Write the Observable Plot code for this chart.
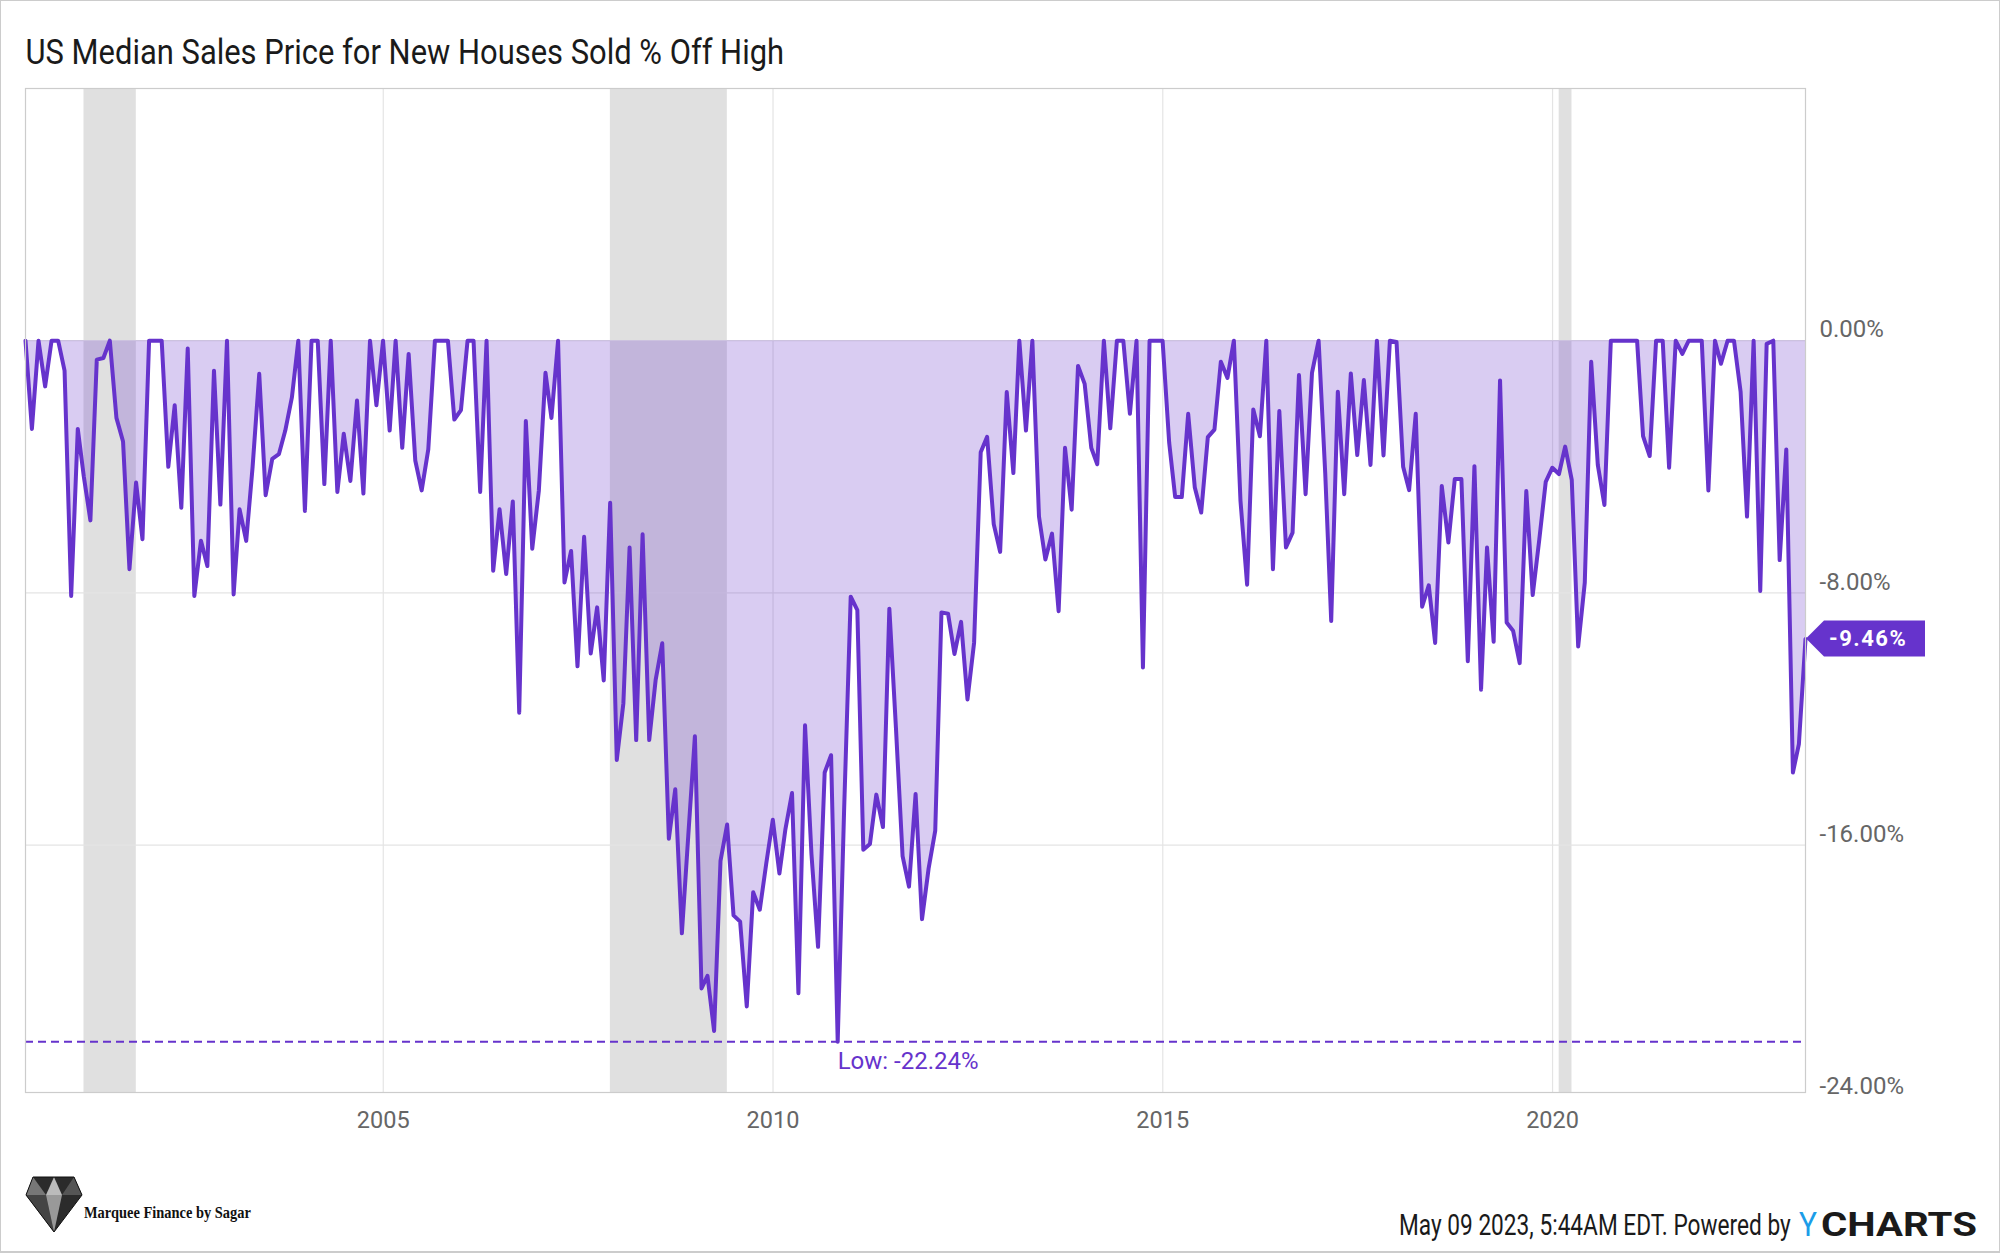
<!DOCTYPE html>
<html><head><meta charset="utf-8">
<script src="https://cdn.jsdelivr.net/npm/d3@7"></script>
<script src="https://cdn.jsdelivr.net/npm/@observablehq/plot@0.6"></script>
<style>
html,body{margin:0;padding:0;background:#fff;}
#page{position:relative;width:2000px;height:1253px;overflow:hidden;background:#fff;font-family:Roboto,sans-serif;}
#page>svg{position:absolute;left:0;top:0;}
#border{position:absolute;left:0;top:0;width:2000px;height:1253px;box-sizing:border-box;border:1px solid #cccccc;border-bottom-width:2px;pointer-events:none;}
g[aria-label="y-tick-labels"] text{letter-spacing:1.1px;}
g[aria-label="x-tick-labels"] text{letter-spacing:0.6px;}
g[aria-label="low-label"] text{letter-spacing:0.7px;}
</style></head>
<body><div id="page"><div id="border"></div></div>
<script>
// ---- data ----
const startYear = 2000, startMonth = 5; // first observation: May 2000 (month-end)
const offHigh = [
 0,-2.8,0,-1.45,0,0,-0.95,-8.1,-2.8,-4.3,
 -5.7,-0.6,-0.55,0,-2.45,-3.2,-7.25,-4.5,-6.3,0,
 0,0,-4.0,-2.05,-5.3,-0.25,-8.1,-6.35,-7.15,-0.95,
 -5.2,0,-8.05,-5.35,-6.35,-4.0,-1.05,-4.9,-3.75,-3.6,
 -2.85,-1.8,0,-5.4,0,0,-4.55,0,-4.8,-2.95,
 -4.45,-1.9,-4.85,0,-2.05,0,-2.85,0,-3.4,-0.42,
 -3.8,-4.75,-3.45,0,0,0,-2.5,-2.2,0,0,
 -4.8,0,-7.3,-5.35,-7.4,-5.1,-11.8,-2.55,-6.6,-4.75,
 -1.02,-2.45,0,-7.67,-6.67,-10.33,-6.22,-9.92,-8.46,-10.78,
 -5.14,-13.3,-11.5,-6.56,-12.67,-6.14,-12.67,-10.77,-9.6,-15.8,
 -14.23,-18.8,-15.7,-12.55,-20.55,-20.15,-21.9,-16.5,-15.35,-18.23,
 -18.43,-21.12,-17.5,-18.05,-16.6,-15.2,-16.9,-15.5,-14.35,-20.7,
 -12.2,-16.28,-19.23,-13.7,-13.15,-22.24,-14.9,-8.12,-8.55,-16.15,
 -15.97,-14.4,-15.43,-8.5,-12.3,-16.35,-17.32,-14.38,-18.35,-16.74,
 -15.54,-8.62,-8.66,-9.94,-8.92,-11.38,-9.58,-3.54,-3.05,-5.82,
 -6.7,-1.63,-4.2,0,-2.85,0,-5.58,-6.94,-6.12,-8.58,
 -3.4,-5.36,-0.8,-1.37,-3.4,-3.92,0,-2.78,0,0,
 -2.32,0,-10.37,0,0,0,-3.24,-4.96,-4.96,-2.32,
 -4.66,-5.45,-3.06,-2.82,-0.67,-1.18,0,-5.08,-7.74,-2.18,
 -3.03,0,-7.25,-2.23,-6.56,-6.09,-1.09,-4.87,-1.02,0,
 -4.2,-8.89,-1.62,-4.87,-1.04,-3.63,-1.25,-3.94,0,-3.64,
 0,-0.04,-4.0,-4.74,-2.32,-8.44,-7.76,-9.59,-4.61,-6.4,
 -4.39,-4.39,-10.17,-3.98,-11.07,-6.56,-9.55,-1.26,-8.94,-9.2,
 -10.23,-4.77,-8.07,-6.3,-4.48,-4.03,-4.23,-3.36,-4.42,-9.7,
 -7.67,-0.67,-3.94,-5.21,0,0,0,0,0,-3.03,
 -3.66,0,0,-4.03,0,-0.42,0,0,0,-4.75,
 0,-0.73,0,0,-1.62,-5.58,0,-7.94,-0.1,0,
 -6.96,-3.45,-13.7,-12.8,-9.46
];
const recessionStarts = ["2001-03-01","2007-12-01","2020-02-01"];
const recessionEnds   = ["2001-11-01","2009-06-01","2020-04-01"];
const yTicks = [0,-8,-16,-24];
const xTickYears = [2005,2010,2015,2020];
const titleText = "US Median Sales Price for New Houses Sold % Off High";
const footerText = "May 09 2023, 5:44AM EDT. Powered by";
const brandText = "Marquee Finance by Sagar";

// ---- build table ----
const series = offHigh.map((v,i)=>({date:new Date(Date.UTC(startYear, startMonth + i, 0)), value:v}));
const recessions = recessionStarts.map((s,i)=>({start:new Date(s+"T00:00:00Z"), end:new Date(recessionEnds[i]+"T00:00:00Z")}));
const xTicks = xTickYears.map(y=>new Date(Date.UTC(y,0,1)));
const lowIdx = d3.minIndex(series, d=>d.value);
const low = series[lowIdx];
const last = series[series.length-1];
const purple = "#6633cc";

function lastValueLabel(index, scales, values, dimensions) {
  const ys = typeof scales.y === "function" ? scales.y : scales.scales.y.apply;
  const y = ys(last.value);
  const x0 = dimensions.width - dimensions.marginRight + 1;
  const g = d3.create("svg:g");
  g.append("path")
    .attr("d", `M${x0},${y}L${x0+18},${y-18}H${x0+119}V${y+18}H${x0+18}Z`)
    .attr("fill", purple);
  g.append("text")
    .attr("x", x0+23).attr("y", y).attr("dy","0.36em")
    .attr("text-anchor","start")
    .attr("fill","#fff").attr("font-weight","bold").attr("font-size",22)
    .attr("font-family","Roboto").attr("letter-spacing","1.5px")
    .text(last.value.toFixed(2)+"%");
  return g.node();
}

const chart = Plot.plot({
  width: 2000, height: 1253,
  marginLeft: 25, marginRight: 195, marginTop: 88, marginBottom: 161,
  style: {fontFamily: "Roboto", background: "transparent", overflow: "visible"},
  x: {type: "utc", domain: [series[0].date, last.date], axis: null},
  y: {domain: [-23.85, 8], axis: null},
  marks: [
    Plot.rect(recessions, {x1: "start", x2: "end", fill: "#e0e0e0"}),
    Plot.ruleY([0,-8,-16], {stroke: "#e4e4e4", strokeWidth: 1.2}),
    Plot.ruleX(xTicks, {stroke: "#e4e4e4", strokeWidth: 1.2}),
    Plot.areaY(series, {x: "date", y: "value", fill: purple, fillOpacity: 0.25}),
    Plot.ruleY([low.value], {stroke: purple, strokeWidth: 1.8, strokeDasharray: "8,5"}),
    Plot.lineY(series, {x: "date", y: "value", stroke: purple, strokeWidth: 4, strokeLinejoin: "round"}),
    Plot.frame({stroke: "#cccccc", strokeWidth: 1.2}),
    Plot.text([low], {x: "date", y: "value", text: d => "Low: " + d.value.toFixed(2) + "%", textAnchor: "start", dy: 20, fill: purple, fontSize: 24, ariaLabel: "low-label"}),
    Plot.text(yTicks, {y: d => d, text: d => d.toFixed(2) + "%", frameAnchor: "right", dx: 14, dy: -11, textAnchor: "start", lineAnchor: "middle", fill: "#666666", fontSize: 24, ariaLabel: "y-tick-labels"}),
    Plot.text(xTicks, {x: d => d, text: d => String(d.getUTCFullYear()), frameAnchor: "bottom", lineAnchor: "middle", dy: 28, fill: "#666666", fontSize: 23.5, ariaLabel: "x-tick-labels"}),
    lastValueLabel
  ]
});
const page = document.getElementById("page");
page.insertBefore(chart, page.firstChild);

// ---- title & footer (condensed by horizontal scaling to the reference widths) ----
const ns = "http://www.w3.org/2000/svg";
const deco = d3.create("svg").attr("xmlns", ns).attr("width",2000).attr("height",1253).style("position","absolute").style("left",0).style("top",0);
page.insertBefore(deco.node(), document.getElementById("border"));

function fitted(x, y, width, txt, attrs) {
  const g = deco.append("g");
  const t = g.append("text").attr("x",0).attr("y",0).attr("text-anchor","start").text(txt);
  for (const k in attrs) t.attr(k, attrs[k]);
  const w = t.node().getComputedTextLength() || width;
  g.attr("transform", `translate(${x},${y}) scale(${width / w},1)`);
  return g;
}
fitted(25.5, 64, 759, titleText, {"font-family":"Roboto","font-size":35,"fill":"#1a1a1a"});
fitted(1399, 1235, 392, footerText, {"font-family":"Roboto","font-size":29,"fill":"#1a1a1a"});
fitted(1799, 1236, 18, "Y", {"font-family":"Roboto","font-size":33,"fill":"#1b9de8"});
fitted(1821, 1236, 156, "CHARTS", {"font-family":"Roboto","font-size":33,"font-weight":"bold","fill":"#1a1a1a"});
fitted(84, 1218, 167, brandText, {"font-family":"Liberation Serif, DejaVu Serif, serif","font-size":16,"font-weight":"bold","fill":"#111"});

// logo gem
const gem = deco.append("g");
gem.append("path").attr("d","M33,1177 L74,1177 L82,1195 L54,1232 L26,1195 Z").attr("fill","#2b2b2b");
gem.append("path").attr("d","M33,1177 L46,1195 L26,1195 Z").attr("fill","#777");
gem.append("path").attr("d","M46,1195 L54,1177 L62,1195 Z").attr("fill","#bbb");
gem.append("path").attr("d","M62,1195 L74,1177 L82,1195 Z").attr("fill","#555");
gem.append("path").attr("d","M26,1195 L46,1195 L54,1232 Z").attr("fill","#444");
gem.append("path").attr("d","M46,1195 L62,1195 L54,1232 Z").attr("fill","#999");
gem.append("path").attr("d","M33,1177 L74,1177 L82,1195 L54,1232 L26,1195 Z").attr("fill","none").attr("stroke","#111").attr("stroke-width",1);
</script>
</body></html>
